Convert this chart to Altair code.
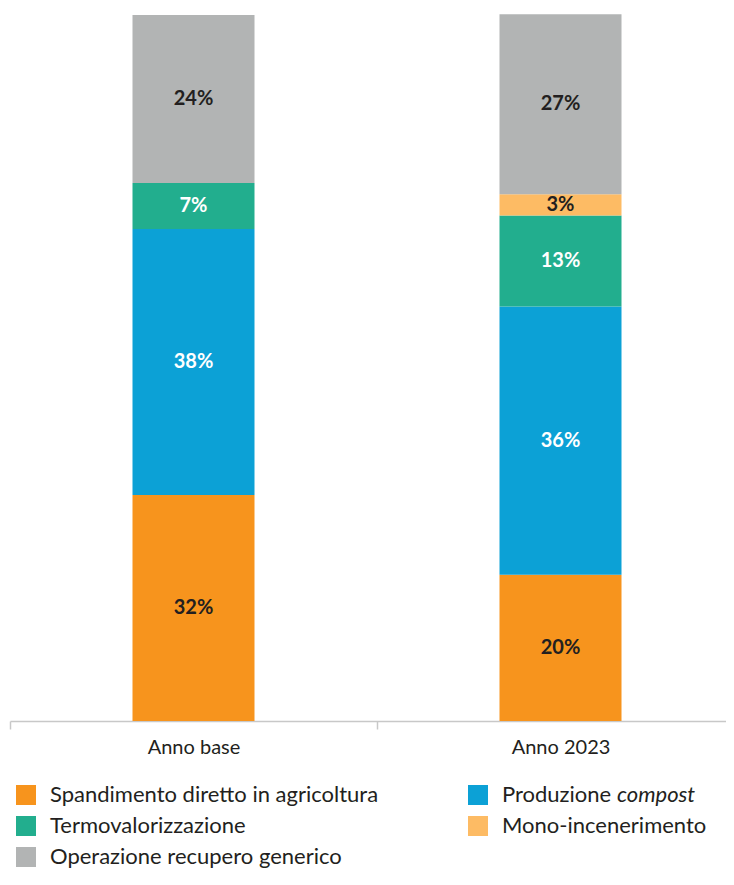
import altair as alt
import pandas as pd

years = ["Anno base", "Anno 2023"]
categories = [
    "Spandimento diretto in agricoltura",
    "Produzione compost",
    "Termovalorizzazione",
    "Mono-incenerimento",
    "Operazione recupero generico",
]
colors = ["#F7941D", "#0CA1D6", "#22AE8E", "#FDBB64", "#B2B4B4"]
label_colors = ["#231F20", "#FFFFFF", "#FFFFFF", "#231F20", "#231F20"]

base_values = [32.0, 37.7, 6.5, 0.0, 23.8]
base_labels = ["32%", "38%", "7%", "", "24%"]
y2023_values = [20.7, 38.0, 12.9, 3.0, 25.5]
y2023_labels = ["20%", "36%", "13%", "3%", "27%"]

# legend is laid out column by column: left column first, then right column
legend_order = [0, 2, 4, 1, 3]
legend_domain = [categories[i] for i in legend_order]
legend_range = [colors[i] for i in legend_order]

rows = []
for year, vals, labs in [("Anno base", base_values, base_labels), ("Anno 2023", y2023_values, y2023_labels)]:
    cum = 0.0
    for i, (c, v, l) in enumerate(zip(categories, vals, labs)):
        if v <= 0:
            continue
        rows.append({"year": year, "cat": c, "idx": i, "value": v, "label": l,
                     "mid": cum + v / 2, "lcol": label_colors[i]})
        cum += v
df = pd.DataFrame(rows)

FONT = "Lato"

xenc = alt.X(
    "year:N", sort=years,
    scale=alt.Scale(range=[0, 734], paddingInner=0, paddingOuter=0),
    axis=alt.Axis(title=None, labelAngle=0, tickBand="extent", domainColor="#C8C8C8",
                  tickColor="#C8C8C8", domainWidth=1.5, tickWidth=1.5, tickSize=8,
                  labelFontSize=20, labelFont=FONT, labelColor="#231F20", labelPadding=8,
                  grid=False),
)

bars = alt.Chart(df).mark_bar(width=122).encode(
    x=xenc,
    y=alt.Y("value:Q", stack="zero", scale=alt.Scale(domain=[0, 100]), axis=None),
    color=alt.Color(
        "cat:N",
        scale=alt.Scale(domain=legend_domain, range=legend_range),
        legend=alt.Legend(
            title=None, orient="none", legendX=5, legendY=769, columns=2,
            symbolType="square", symbolSize=400, symbolStrokeWidth=0, symbolOpacity=1,
            labelFont=FONT, labelFontSize=22, labelColor="#231F20", labelOffset=13,
            columnPadding=88, rowPadding=9, labelLimit=500,
            labelExpr="datum.label == 'Produzione compost' ? 'Produzione' : datum.label",
        ),
    ),
    order=alt.Order("idx:Q"),
)

texts = alt.Chart(df).mark_text(font=FONT, fontSize=20, fontWeight="bold").encode(
    x=alt.X("year:N", sort=years),
    y=alt.Y("mid:Q"),
    text="label:N",
    color=alt.Color("lcol:N", scale=None),
)

italic = alt.Chart(pd.DataFrame({"t": ["compost"]})).mark_text(
    font=FONT, fontSize=22, fontStyle="italic", align="left", baseline="alphabetic",
    color="#231F20",
).encode(text="t:N", x=alt.value(607), y=alt.value(787))

chart = alt.layer(bars, texts, italic).properties(
    width=716, height=706,
    autosize=alt.AutoSizeParams(type="none"),
    padding={"left": 2, "top": 7, "right": 0, "bottom": 153},
).configure_view(stroke=None)

chart.save("out.html", embed_options={"renderer": "svg", "actions": False})
